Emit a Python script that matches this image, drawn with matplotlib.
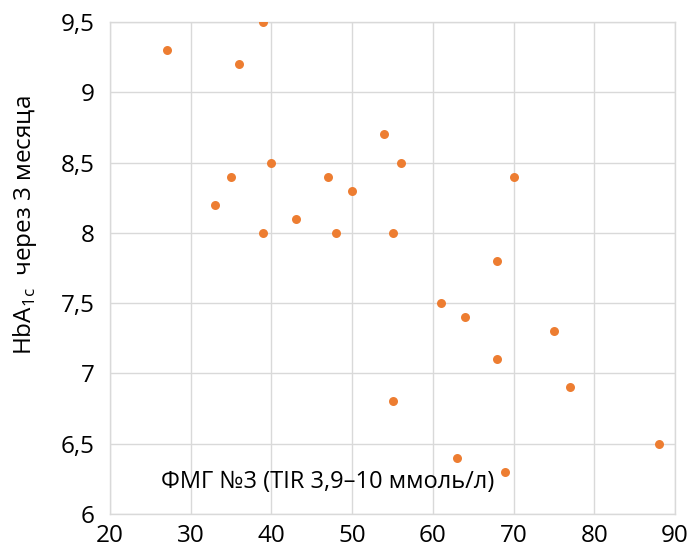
import numpy as np
import matplotlib
matplotlib.use("Agg")
import matplotlib.pyplot as plt
from matplotlib.ticker import FuncFormatter

plt.rcParams['font.family'] = ['Open Sans', 'DejaVu Sans']

# TIR, % vs HbA1c after 3 months
tir = [27, 39, 36, 40, 35, 33, 39, 43, 47, 48, 50, 54, 56, 70, 55,
       68, 61, 64, 75, 68, 77, 55, 63, 69, 88]
hba1c = [9.3, 9.5, 9.2, 8.5, 8.4, 8.2, 8.0, 8.1, 8.4, 8.0, 8.3, 8.7, 8.5, 8.4, 8.0,
         7.8, 7.5, 7.4, 7.3, 7.1, 6.9, 6.8, 6.4, 6.3, 6.5]

x_ticks = [20, 30, 40, 50, 60, 70, 80, 90]
y_ticks = [6, 6.5, 7, 7.5, 8, 8.5, 9, 9.5]

fig = plt.figure(figsize=(6.88, 5.49), dpi=100)
ax = fig.add_axes([0.160, 0.064, 0.821, 0.896])

ax.scatter(tir, hba1c, s=42, color='#ED7D31', zorder=3, linewidths=0)

ax.set_xlim(20, 90)
ax.set_ylim(6, 9.5)
ax.set_xticks(x_ticks)
ax.set_yticks(y_ticks)

def comma(v, pos):
    s = ('%g' % v).replace('.', ',')
    return s

ax.xaxis.set_major_formatter(FuncFormatter(comma))
ax.yaxis.set_major_formatter(FuncFormatter(comma))
ax.tick_params(length=0, labelsize=17.5, colors='#000000')
ax.tick_params(axis='y', pad=11)
ax.tick_params(axis='x', pad=7)

ax.grid(True, color='#D9D9D9', linewidth=1)
ax.set_axisbelow(True)
for sp in ax.spines.values():
    sp.set_color('#D9D9D9')
    sp.set_linewidth(1)

ax.set_ylabel(r'HbA$_\mathregular{1c}$  через 3 месяца', fontsize=17.5, color='#000000')
ax.yaxis.set_label_coords(-0.125, 0.587)

ax.text(26.3, 6.23, 'ФМГ №3 (TIR 3,9–10 ммоль/л)', fontsize=17, va='center', color='#000000')

fig.savefig('out.png', dpi=100)
